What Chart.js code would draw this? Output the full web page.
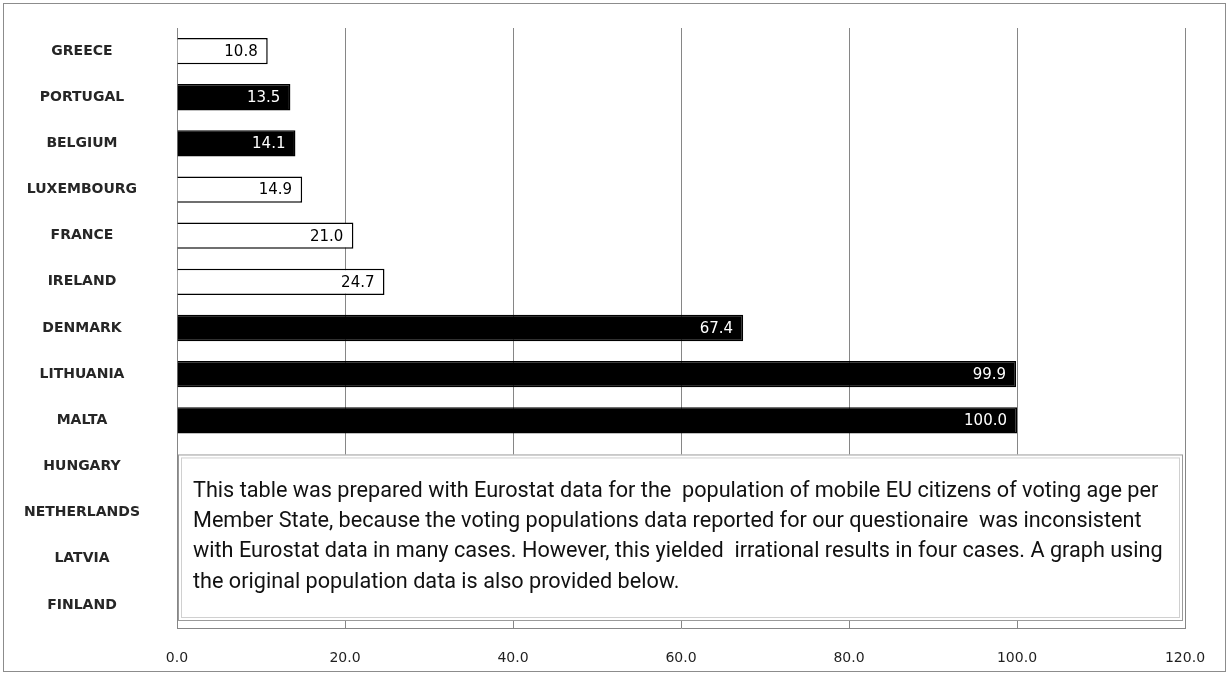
<!DOCTYPE html>
<html>
<head>
<meta charset="utf-8">
<script src="https://cdn.jsdelivr.net/npm/chart.js@4.4.1/dist/chart.umd.min.js"></script>
<style>
  body { margin: 0; background: #fff; overflow: hidden; }
</style>
</head>
<body>
<canvas id="chart1" width="1229" height="675"></canvas>
<script>
// data
const countries = ["GREECE", "PORTUGAL", "BELGIUM", "LUXEMBOURG", "FRANCE", "IRELAND",
    "DENMARK", "LITHUANIA", "MALTA", "HUNGARY", "NETHERLANDS", "LATVIA", "FINLAND"];
const shares = [10.8, 13.5, 14.1, 14.9, 21.0, 24.7, 67.4, 99.9, 100.0, null, null, null, null];
// the countries drawn with a solid bar
const solidCountries = ["PORTUGAL", "BELGIUM", "DENMARK", "LITHUANIA", "MALTA"];
const xTicks = [0, 20, 40, 60, 80, 100, 120];
const noteLines = [
    "This table was prepared with Eurostat data for the  population of mobile EU citizens of voting age per",
    "Member State, because the voting populations data reported for our questionaire  was inconsistent",
    "with Eurostat data in many cases. However, this yielded  irrational results in four cases. A graph using",
    "the original population data is also provided below."
];

const gridGrey = '#868686';
const isSolid = countries.map(c => solidCountries.includes(c));

// white page + thin grey frame round the whole picture
const framePlugin = {
    id: 'frame',
    beforeDraw(chart) {
        const ctx = chart.ctx;
        ctx.save();
        ctx.fillStyle = '#fff';
        ctx.fillRect(0, 0, chart.width, chart.height);
        ctx.restore();
    },
    afterDraw(chart) {
        const ctx = chart.ctx;
        ctx.save();
        ctx.strokeStyle = '#8c8c8c';
        ctx.lineWidth = 1;
        ctx.strokeRect(3.5, 3.5, chart.width - 7, chart.height - 7);
        ctx.restore();
    }
};

// numbers at the end of each bar
const valueLabels = {
    id: 'valueLabels',
    afterDatasetsDraw(chart) {
        const ctx = chart.ctx;
        const meta = chart.getDatasetMeta(0);
        ctx.save();
        ctx.font = '15px "DejaVu Sans", sans-serif';
        ctx.textAlign = 'right';
        ctx.textBaseline = 'middle';
        meta.data.forEach((bar, i) => {
            if (shares[i] == null) return;
            ctx.fillStyle = isSolid[i] ? '#fff' : '#000';
            ctx.fillText(shares[i].toFixed(1), bar.x - 10, bar.y + 1);
        });
        ctx.restore();
    }
};

// the text box sitting over the empty rows
const noteBox = {
    id: 'noteBox',
    afterDraw(chart) {
        const ctx = chart.ctx;
        const area = chart.chartArea;
        const yScale = chart.scales.y;
        const left = area.left + 1;
        const right = area.right - 2;
        const top = yScale.getPixelForValue(9) - 12;
        const bottom = area.bottom - 7;
        ctx.save();
        ctx.fillStyle = '#fff';
        ctx.fillRect(left, top, right - left, bottom - top);
        ctx.lineWidth = 1;
        ctx.strokeStyle = '#9a9a9a';
        ctx.strokeRect(left + 0.5, top + 0.5, right - left - 1, bottom - top - 1);
        ctx.strokeStyle = '#d0d0d0';
        ctx.strokeRect(left + 3.5, top + 3.5, right - left - 7, bottom - top - 7);

        // fit the longest line into the box
        const family = '"Liberation Sans Narrow", "Roboto", sans-serif';
        ctx.font = '100px ' + family;
        const widest = Math.max(...noteLines.map(l => ctx.measureText(l).width));
        const size = Math.min(22, 100 * (right - left - 35) / widest);
        ctx.font = size.toFixed(2) + 'px ' + family;
        ctx.fillStyle = '#111';
        ctx.textAlign = 'left';
        ctx.textBaseline = 'middle';
        noteLines.forEach((line, i) => {
            ctx.fillText(line, left + 15, top + 37 + i * 30.3);
        });
        ctx.restore();
    }
};

const chartCanvas = document.getElementById("chart1").getContext("2d");
const shareChart = new Chart(chartCanvas, {
    type: "bar",
    data: {
        labels: countries,
        datasets: [{
            data: shares,
            backgroundColor: isSolid.map(s => s ? '#000' : '#fff'),
            borderColor: '#000',
            borderWidth: 1.5,
            borderSkipped: 'left',
            barPercentage: 0.57,
            categoryPercentage: 1
        }]
    },
    options: {
        indexAxis: 'y',
        responsive: false,
        animation: false,
        layout: {
            padding: { left: 0, right: 44, top: 28, bottom: 0 }
        },
        scales: {
            x: {
                min: 0,
                max: 120,
                afterBuildTicks: scale => { scale.ticks = xTicks.map(v => ({ value: v })); },
                afterFit: scale => { scale.height = 47; },
                grid: { color: gridGrey, drawTicks: false },
                border: { display: true, color: gridGrey },
                ticks: {
                    padding: 22,
                    color: '#1f1f1f',
                    font: { family: '"DejaVu Sans", sans-serif', size: 14 },
                    callback: v => Number(v).toFixed(1)
                }
            },
            y: {
                // fixed width; the big label padding must not push the plot down
                afterFit: scale => {
                    scale.width = 177;
                    scale.paddingTop = 0;
                    scale.paddingBottom = 0;
                },
                grid: { display: false, drawTicks: false },
                border: { display: true, color: gridGrey },
                ticks: {
                    crossAlign: 'center',
                    padding: 37,
                    color: '#262626',
                    font: { family: '"DejaVu Sans", sans-serif', size: 14, weight: 'bold' }
                }
            }
        },
        plugins: {
            legend: { display: false },
            tooltip: { enabled: false }
        }
    },
    plugins: [framePlugin, valueLabels, noteBox]
});
</script>
</body>
</html>
